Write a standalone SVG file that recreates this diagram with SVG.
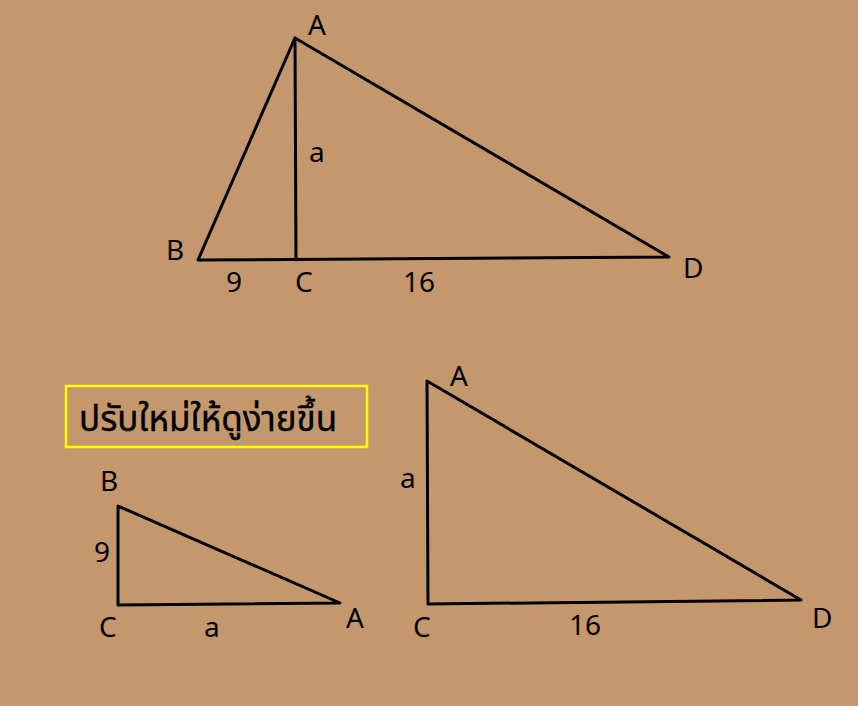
<svg xmlns="http://www.w3.org/2000/svg" width="858" height="706" viewBox="0 0 858 706">
<style>
.ln{fill:none;stroke:#000;stroke-width:3;stroke-linejoin:round;stroke-linecap:round}
.lb{font-family:"Noto Sans","Open Sans",sans-serif;font-size:28px;fill:#000}
.th{font-family:"Noto Sans","Noto Sans Thai",sans-serif;font-size:35px;fill:#000;stroke:#000;stroke-width:0.4}
</style>
<rect width="858" height="706" fill="#C4986C"/>
<g id="connectors">
<path class="ln" d="M295,38 L198,260 L669,257 Z"/>
<path class="ln" d="M295,38 L296,260"/>
<path class="ln" d="M118,506 L118,605 L340,603 Z"/>
<path class="ln" d="M427,381 L428,604 L801,600 Z"/>
</g>
<g id="top-labels">
<text class="lb" x="308" y="35">A</text>
<text class="lb" x="309" y="162">a</text>
<text class="lb" x="166" y="260">B</text>
<text class="lb" x="226" y="292">9</text>
<text class="lb" x="295" y="292">C</text>
<text class="lb" x="403" y="292">16</text>
<text class="lb" x="683" y="278">D</text>
</g>
<g id="note">
<rect x="66" y="386" width="301" height="61" fill="none" stroke="#FFFF00" stroke-width="2.5"/>
<text class="th" x="79" y="431">ปรับใหม่ให้ดูง่ายขึ้น</text>
</g>
<g id="small-triangle">
<text class="lb" x="100" y="491">B</text>
<text class="lb" x="94" y="562">9</text>
<text class="lb" x="99" y="637">C</text>
<text class="lb" x="204" y="637">a</text>
<text class="lb" x="346" y="628">A</text>
</g>
<g id="large-triangle">
<text class="lb" x="450" y="386">A</text>
<text class="lb" x="400" y="488">a</text>
<text class="lb" x="413" y="637">C</text>
<text class="lb" x="569" y="635">16</text>
<text class="lb" x="812" y="628">D</text>
</g>
</svg>
